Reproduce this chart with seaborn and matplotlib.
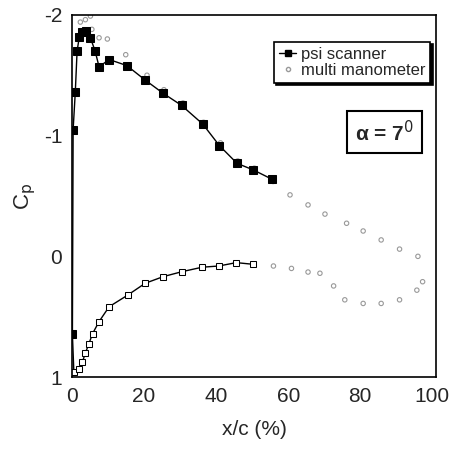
import seaborn as sns
import matplotlib.pyplot as plt
import pandas as pd

# psi scanner, upper surface (filled squares); first point is the leading edge
psi_up_x = [0.1, 0.3, 0.9, 1.4, 2.0, 2.9, 3.9, 5.1, 6.4, 7.5, 10.3, 15.2, 20.3, 25.3, 30.4, 36.3, 40.9, 45.8, 50.3, 55.4]
psi_up_cp = [0.645, -1.05, -1.36, -1.70, -1.815, -1.857, -1.87, -1.81, -1.70, -1.57, -1.63, -1.58, -1.46, -1.35, -1.25, -1.095, -0.917, -0.77, -0.716, -0.64]

# psi scanner, lower surface (open squares)
psi_lo_x = [0.1, 0.5, 2.0, 2.9, 3.7, 4.6, 5.7, 7.5, 10.3, 15.5, 20.3, 25.3, 30.5, 36.1, 40.7, 45.6, 50.3]
psi_lo_cp = [0.645, 0.955, 0.935, 0.873, 0.80, 0.73, 0.64, 0.54, 0.417, 0.32, 0.223, 0.168, 0.127, 0.09, 0.08, 0.052, 0.066]

# multi manometer, upper surface
mm_up_x = [2.3, 3.7, 5.1, 5.5, 7.5, 9.8, 14.9, 20.8, 25.5, 30.8, 36.5, 41.2, 46.0, 50.6, 55.8, 60.5, 65.5, 70.2, 76.2, 80.8, 85.8, 90.9, 96.0]
mm_up_cp = [-1.94, -1.96, -1.99, -1.88, -1.81, -1.80, -1.67, -1.50, -1.38, -1.27, -1.11, -0.94, -0.79, -0.73, -0.62, -0.509, -0.426, -0.35, -0.274, -0.21, -0.136, -0.06, 0.0]

# multi manometer, lower surface
mm_lo_x = [55.9, 60.9, 65.5, 68.8, 72.6, 75.7, 80.8, 85.8, 90.9, 95.7, 97.3]
mm_lo_cp = [0.08, 0.10, 0.13, 0.14, 0.245, 0.36, 0.39, 0.39, 0.36, 0.28, 0.21]

x_ticks = [0, 20, 40, 60, 80, 100]
y_ticks = [-2, -1, 0, 1]

sns.set_style("white")
plt.rcParams['font.family'] = ['Liberation Sans', 'DejaVu Sans']
plt.rcParams['axes.unicode_minus'] = False

fig = plt.figure(figsize=(4.56, 4.5), dpi=100)
ax = fig.add_axes([0.158, 0.162, 0.798, 0.805])

up = pd.DataFrame({'x': psi_up_x, 'cp': psi_up_cp})
lo = pd.DataFrame({'x': psi_lo_x, 'cp': psi_lo_cp})
mm = pd.DataFrame({'x': mm_up_x + mm_lo_x, 'cp': mm_up_cp + mm_lo_cp})

sns.lineplot(data=lo, x='x', y='cp', sort=False, estimator=None, ax=ax,
             color='black', lw=1.0, marker='s', markersize=5,
             markerfacecolor='white', markeredgecolor='black', markevery=slice(1, None))
sns.lineplot(data=up, x='x', y='cp', sort=False, estimator=None, ax=ax,
             color='black', lw=1.0, marker='s', markersize=6,
             markerfacecolor='black', markeredgecolor='black')
sns.scatterplot(data=mm, x='x', y='cp', ax=ax, marker='o', s=10,
                facecolor='none', edgecolor='#999999', linewidth=0.8, zorder=1)

ax.set_xlim(0, 101)
ax.set_ylim(1, -2)
ax.set_xticks(x_ticks)
ax.set_yticks(y_ticks)
ax.tick_params(labelsize=15, length=0, pad=7)
ax.set_xlabel('x/c (%)', fontsize=15, labelpad=10)
ax.set_ylabel('C$_\\mathrm{p}$', fontsize=16, labelpad=4)
for s in ax.spines.values():
    s.set_color('black')
    s.set_linewidth(1.2)

h1 = plt.Line2D([], [], color='black', lw=1.0, marker='s', markersize=4)
h2 = plt.Line2D([], [], color='none', marker='o', markersize=3,
                markerfacecolor='none', markeredgecolor='#999999')
leg = ax.legend([h1, h2], ['psi scanner', 'multi manometer'], loc='upper right',
                bbox_to_anchor=(0.985, 0.925), fontsize=12, frameon=True, fancybox=False,
                handlelength=1.0, handletextpad=0.3, borderpad=0.3, labelspacing=0.05,
                borderaxespad=0, shadow={'color': 'black', 'alpha': 1, 'ox': 1.5, 'oy': -1.5})
leg.get_frame().set_edgecolor('black')
leg.get_frame().set_linewidth(1.2)

ax.text(0.94, 0.676, '\u03b1 = 7$^{\\mathrm{0}}$', transform=ax.transAxes,
        ha='right', va='center', fontsize=15, fontweight='bold',
        bbox=dict(boxstyle='square,pad=0.4', facecolor='white', edgecolor='black', linewidth=1.5))

fig.savefig('out.png', dpi=100)
